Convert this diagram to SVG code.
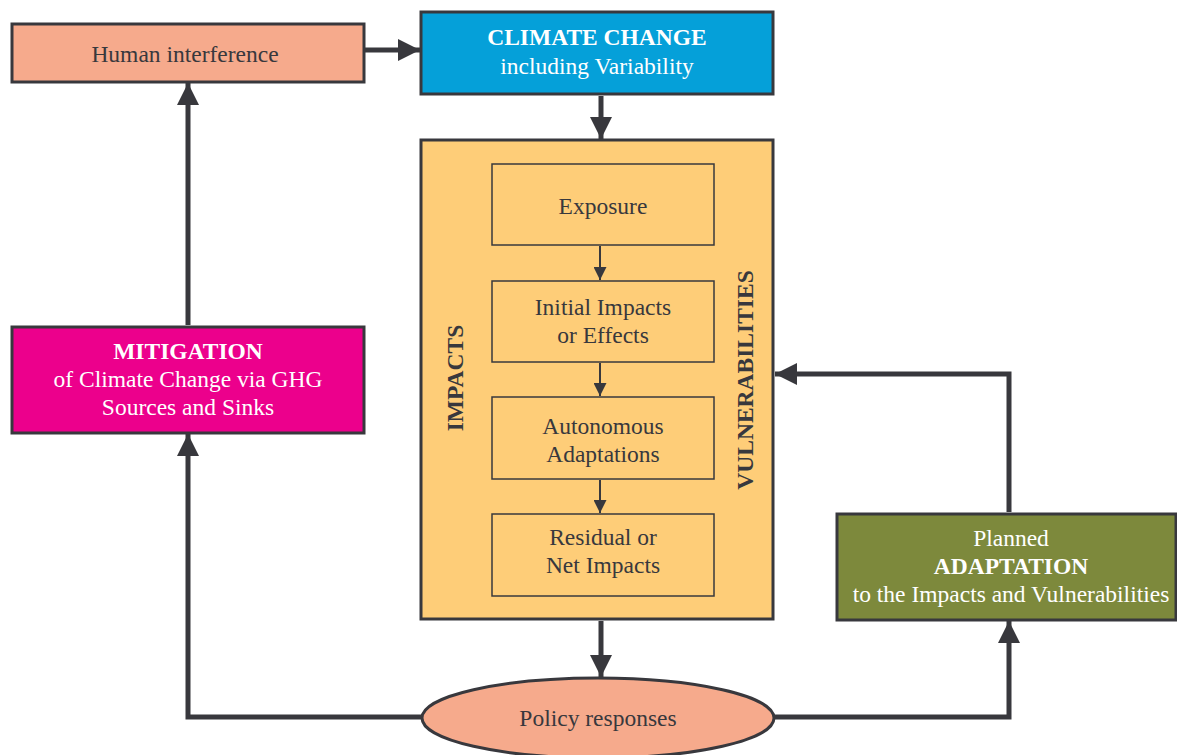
<svg xmlns="http://www.w3.org/2000/svg" width="1177" height="755" viewBox="0 0 1177 755">
  <style>
    .box { stroke: #38383d; stroke-width: 3; }
    .inner { fill: #fecd78; stroke: #38383d; stroke-width: 1.5; }
    .t { font-family: "Liberation Serif", "Times New Roman", serif; font-size: 23.5px; text-anchor: middle; fill: #38383d; }
    .w { fill: #ffffff; }
    .b { font-weight: bold; }
    .conn { fill: none; stroke: #38383d; stroke-width: 5; }
    .thin { fill: none; stroke: #38383d; stroke-width: 2; }
  </style>
  <defs>
    <marker id="big" viewBox="0 0 10 10" refX="10" refY="5" markerUnits="userSpaceOnUse" markerWidth="22" markerHeight="22" orient="auto">
      <path d="M0,0 L10,5 L0,10 Z" fill="#38383d"/>
    </marker>
    <marker id="small" viewBox="0 0 10 10" refX="10" refY="5" markerUnits="userSpaceOnUse" markerWidth="13" markerHeight="13" orient="auto">
      <path d="M0,0 L10,5 L0,10 Z" fill="#38383d"/>
    </marker>
  </defs>

  <g id="human-interference">
    <rect class="box" x="12" y="24" width="352" height="58" fill="#f6aa8c"/>
    <text class="t" x="185" y="62">Human interference</text>
  </g>

  <g id="climate-change">
    <rect class="box" x="421" y="12" width="352" height="82" fill="#05a0d9"/>
    <text class="t w b" x="597" y="45">CLIMATE CHANGE</text>
    <text class="t w" x="597" y="74">including Variability</text>
  </g>

  <g id="impacts-vulnerabilities">
    <rect class="box" x="421" y="140" width="352" height="479" fill="#fecd78"/>
    <text class="t b" transform="translate(463,378) rotate(-90)">IMPACTS</text>
    <text class="t b" transform="translate(753,380) rotate(-90)">VULNERABILITIES</text>
  </g>

  <g id="exposure">
    <rect class="inner" x="492" y="164" width="222" height="81"/>
    <text class="t" x="603" y="214">Exposure</text>
  </g>

  <g id="initial-impacts">
    <rect class="inner" x="492" y="281" width="222" height="81"/>
    <text class="t" x="603" y="315">Initial Impacts</text>
    <text class="t" x="603" y="343">or Effects</text>
  </g>

  <g id="autonomous-adaptations">
    <rect class="inner" x="492" y="397" width="222" height="82"/>
    <text class="t" x="603" y="434">Autonomous</text>
    <text class="t" x="603" y="462">Adaptations</text>
  </g>

  <g id="residual-impacts">
    <rect class="inner" x="492" y="514" width="222" height="82"/>
    <text class="t" x="603" y="545">Residual or</text>
    <text class="t" x="603" y="573">Net Impacts</text>
  </g>

  <g id="mitigation">
    <rect class="box" x="12" y="327" width="352" height="106" fill="#ec008c"/>
    <text class="t w b" x="188" y="359">MITIGATION</text>
    <text class="t w" x="188" y="387">of Climate Change via GHG</text>
    <text class="t w" x="188" y="415">Sources and Sinks</text>
  </g>

  <g id="adaptation">
    <rect class="box" x="837" y="514" width="339" height="106" fill="#7d893c"/>
    <text class="t w" x="1011" y="546">Planned</text>
    <text class="t w b" x="1011" y="574">ADAPTATION</text>
    <text class="t w" x="1011" y="602">to the Impacts and Vulnerabilities</text>
  </g>

  <g id="policy-responses">
    <ellipse class="box" cx="598" cy="718" rx="176" ry="40" fill="#f6aa8c"/>
    <text class="t" x="598" y="726">Policy responses</text>
  </g>

  <g id="connectors">
    <path class="conn" d="M365,50 L420,50" marker-end="url(#big)"/>
    <path class="conn" d="M601,96 L601,139" marker-end="url(#big)"/>
    <path class="conn" d="M188,325 L188,83" marker-end="url(#big)"/>
    <path class="conn" d="M601,621 L601,677" marker-end="url(#big)"/>
    <path class="conn" d="M421,717 L188,717 L188,434" marker-end="url(#big)"/>
    <path class="conn" d="M775,717 L1009,717 L1009,621" marker-end="url(#big)"/>
    <path class="conn" d="M1009,512 L1009,374 L775,374" marker-end="url(#big)"/>
    <path class="thin" d="M600,246 L600,280" marker-end="url(#small)"/>
    <path class="thin" d="M600,363 L600,396" marker-end="url(#small)"/>
    <path class="thin" d="M600,480 L600,513" marker-end="url(#small)"/>
  </g>
</svg>
